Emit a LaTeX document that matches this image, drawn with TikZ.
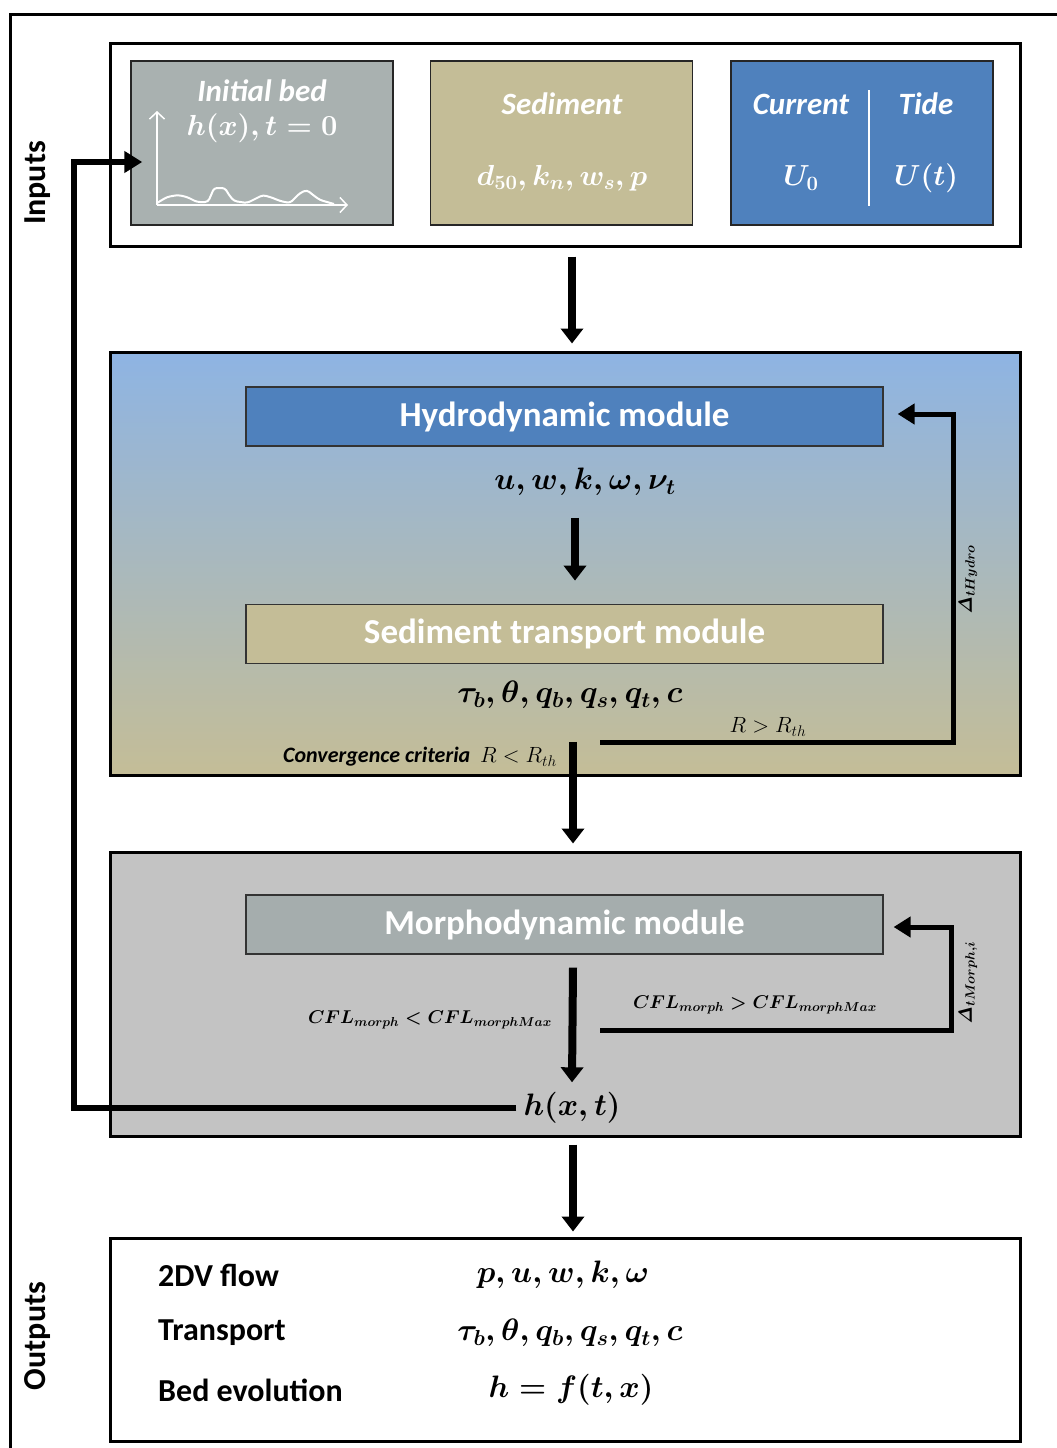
\RequirePackage{fix-cm}
\documentclass[tikz,border=0pt]{standalone}
\usepackage[no-math]{fontspec}
\setmainfont{Carlito}
\usepackage{amsmath}
\usetikzlibrary{positioning}
\usetikzlibrary{arrows.meta}
\tikzset{>={Triangle[width=22pt,length=15pt]}}
\definecolor{modblue}{RGB}{79,129,189}
\definecolor{modtan}{RGB}{196,189,151}
\definecolor{bedgray}{RGB}{169,177,176}
\definecolor{skyblue}{RGB}{142,180,227}
\definecolor{morphgray}{RGB}{195,195,195}
\definecolor{morphbox}{RGB}{165,173,173}

\begin{document}
\begin{tikzpicture}[x=1pt, y=-1pt, panel/.style={draw=black, line width=3pt, minimum width=910pt, minimum height=203pt, inner sep=0pt}, inbox/.style={draw=black!85, line width=1.5pt, minimum width=262pt, minimum height=164pt, inner sep=0pt}, module/.style={draw=black!80, line width=1.2pt, minimum width=637pt, minimum height=59pt, inner sep=0pt, text=white, font=\fontsize{35}{40}\selectfont\bfseries}, intitle/.style={inner sep=2pt, text=white, font=\fontsize{31}{36}\selectfont\bfseries\itshape}, invar/.style={inner sep=2pt, text=white, font=\fontsize{29}{33}\selectfont\boldmath}, vars/.style={inner sep=2pt, font=\fontsize{31}{36}\selectfont\boldmath}, sidelabel/.style={rotate=90, inner sep=2pt, font=\fontsize{32}{36}\selectfont\bfseries}, outlabel/.style={anchor=west, inner sep=0pt, font=\fontsize{32}{36}\selectfont\bfseries}, cond/.style={inner sep=2pt, font=\fontsize{22}{26}\selectfont}, crit/.style={inner sep=2pt, font=\fontsize{18.5}{22}\selectfont\boldmath}, steplabel/.style={rotate=90, inner sep=2pt, font=\fontsize{19}{22}\selectfont\boldmath}, bigarrow/.style={->, line width=8pt}, looparrow/.style={-{Triangle[width=20pt,length=17pt]}, line width=5pt}, fbarrow/.style={-{Triangle[width=21pt,length=18pt]}, line width=6pt}]
    
    \useasboundingbox (0,0) rectangle (1057,1448);
    \draw[line width=3pt] (10,1470) -- (10,14) -- (1080,14);
    
    %Nodes
    \node[sidelabel](inlbl) at (38,183){Inputs};
    \node[sidelabel](outlbl) at (38,1336){Outputs};
    
    \node[panel](inputs) at (565,144.5){};
    \node[inbox, fill=bedgray](initbed) at (262,143){};
    \node[inbox, fill=modtan](sedbox)[right=36pt of initbed]{};
    \node[inbox, fill=modblue](forcing)[right=37pt of sedbox]{};
    \node[intitle](bedtitle) at (262,91){Initial bed};
    \node[invar](bedvar) at (262,128){$h(x), t = 0$};
    \node[intitle](sedtitle) at (562,104){Sediment};
    \node[invar](sedvar) at (562,178){$d_{50}, k_n, w_s, p$};
    \node[intitle](curtitle) at (801,104){Current};
    \node[intitle](tidetitle) at (926,104){Tide};
    \node[invar](curvar) at (801,178){$U_0$};
    \node[invar](tidevar) at (926,178){$U(t)$};
    
    \node[panel, minimum height=423pt, top color=skyblue, bottom color=modtan](hydropanel) at (565,563.5){};
    \node[module, fill=modblue](hydromod) at (564.5,416.5){Hydrodynamic module};
    \node[vars](hydrovars) at (585,482){$u, w, k, \omega, \nu_t$};
    \node[module, fill=modtan](sedmod)[below=157pt of hydromod]{Sediment transport module};
    \node[vars](sedvars) at (570,695){$\tau_b, \theta, q_b, q_s, q_t, c$};
    \node[cond](rgt) at (768,727){$R > R_{th}$};
    \node[cond](conv) at (420,757){\bfseries\itshape Convergence criteria \ $R < R_{th}$};
    \node[steplabel](dhydro) at (968,580){$\mathit{\Delta}_{tHydro}$};
    \coordinate (hloop) at (600,742);
    
    \node[panel, minimum height=284pt, fill=morphgray](morphpanel) at (565,994){};
    \node[module, fill=morphbox](morphmod) at (564.5,924.5){Morphodynamic module};
    \node[crit](cfllow) at (430,1020){$CFL_{morph} < CFL_{morphMax}$};
    \node[crit](cflhigh) at (755,1005){$CFL_{morph} > CFL_{morphMax}$};
    \node[steplabel](dmorph) at (968,983){$\mathit{\Delta}_{tMorph,i}$};
    \node[vars](hxt) at (572,1108){$h(x,t)$};
    \coordinate (mloop) at (600,1030);
    
    \node[panel](outputs) at (565,1339.5){};
    \node[outlabel](flowlbl) at (158,1275){2DV flow};
    \node[outlabel](translbl) at (158,1333){Transport};
    \node[outlabel](bedlbl) at (158,1390){Bed evolution};
    \node[vars](flowvars) at (563,1275){$p, u, w, k, \omega$};
    \node[vars](transvars) at (570,1333){$\tau_b, \theta, q_b, q_s, q_t, c$};
    \node[vars](bedvars) at (571,1390){$h = f(t,x)$};
    
    %Bed sketch
    \draw[white, line width=1.5pt, -{Straight Barb[length=7pt,width=15pt]}] (157,205) -- (157,111);
    \draw[white, line width=1.5pt, -{Straight Barb[length=7pt,width=15pt]}] (157,205) -- (348,205);
    \draw[white, line width=2pt, rounded corners=3pt] (157,203) -- (167,197) -- (178,195) -- (187,197) -- (197,202) -- (208,202) -- (212,193) -- (214,188) -- (225,188) -- (229,195) -- (234,201) -- (247,203) -- (257,198) -- (263,195) -- (273,198) -- (280,201) -- (290,203) -- (300,193) -- (307,190) -- (313,195) -- (320,200) -- (334,204);
    \draw[white, line width=1.5pt] ([xshift=7pt,yshift=-30pt]forcing.north) -- ([xshift=7pt,yshift=20pt]forcing.south);
    
    %Lines
    \draw[bigarrow] ([xshift=7pt,yshift=-9pt]inputs.south) -- ([xshift=7pt,yshift=7pt]hydropanel.north);
    \draw[bigarrow] ([xshift=-10pt,yshift=-20pt]hydrovars.south) -- ([xshift=10.5pt,yshift=23pt]sedmod.north);
    \draw[looparrow] (hloop) -| ([xshift=70pt,yshift=2.5pt]hydromod.east) -- ([xshift=14pt,yshift=2.5pt]hydromod.east);
    \draw[bigarrow] ([xshift=8.5pt,yshift=-78pt]sedmod.south) -- ([xshift=8pt,yshift=7pt]morphpanel.north);
    \draw[bigarrow] ([xshift=8.5pt,yshift=-13pt]morphmod.south) -- ([yshift=8pt]hxt.north);
    \draw[looparrow] (mloop) -| ([xshift=68pt,yshift=-2.5pt]morphmod.east) -- ([xshift=10pt,yshift=-2.5pt]morphmod.east);
    \draw[fbarrow] ([xshift=-5pt]hxt.west) -| ([xshift=-56pt,yshift=-19pt]initbed.west) -- ([xshift=12pt,yshift=-19pt]initbed.west);
    \draw[bigarrow] ([xshift=8pt,yshift=-7pt]morphpanel.south) -- ([xshift=8pt,yshift=5pt]outputs.north);
    
\end{tikzpicture}
\end{document}
